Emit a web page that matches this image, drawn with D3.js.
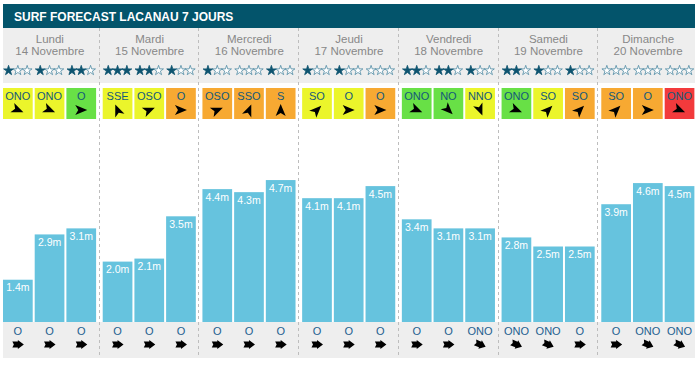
<!DOCTYPE html>
<html><head><meta charset="utf-8">
<script src="https://cdn.jsdelivr.net/npm/d3@7"></script>
<style>
html,body{margin:0;padding:0;background:#fff;}
svg{display:block;font-family:"Liberation Sans",Arial,sans-serif;}
</style></head>
<body>
<script>
const title = "SURF FORECAST LACANAU 7 JOURS";
const days = ["Lundi","Mardi","Mercredi","Jeudi","Vendredi","Samedi","Dimanche"];
const dates = ["14 Novembre","15 Novembre","16 Novembre","17 Novembre","18 Novembre","19 Novembre","20 Novembre"];
const slots = [0,1,2];
const waveHeights = [1.4,2.9,3.1, 2.0,2.1,3.5, 4.4,4.3,4.7, 4.1,4.1,4.5, 3.4,3.1,3.1, 2.8,2.5,2.5, 3.9,4.6,4.5];
const starRatings = [1,1,2, 3,2,1, 1,0,1, 1,1,0, 2,2,1, 2,1,1, 0,0,0];
const windDirs = ["ONO","ONO","O", "SSE","OSO","O", "OSO","SSO","S", "SO","O","O", "ONO","NO","NNO", "ONO","SO","SO", "SO","O","ONO"];
const windQuality = ["fair","fair","good", "fair","fair","poor", "poor","poor","poor", "fair","fair","poor", "good","good","fair", "good","fair","poor", "poor","poor","bad"];
const swellDirs = ["O","O","O", "O","O","O", "O","O","O", "O","O","O", "O","O","ONO", "ONO","ONO","O", "O","ONO","ONO"];

const W = 698, H = 365;
const compass = ["N","NNE","NE","ENE","E","ESE","SE","SSE","S","SSO","SO","OSO","O","ONO","NO","NNO"];
const fromDeg = d => compass.indexOf(d) * 22.5;
const rot = d => (fromDeg(d) + 180) - 90; // arrow drawn pointing east; rotate to "towards" bearing
const qColor = {good:"#68e046", fair:"#ebf52b", poor:"#f7a932", bad:"#f23a3c"};

const svg = d3.select("body").append("svg").attr("width", W).attr("height", H);

const xDay = d3.scaleBand().domain(d3.range(days.length)).range([0, W]);
const xSlot = d3.scaleBand().domain(slots).range([3, 96.1]).paddingInner(0.063);
const y = d3.scaleLinear().domain([0, 5]).range([322, 171]);

const slotData = d3.range(days.length * slots.length).map(i => ({
  i, day: Math.floor(i / 3), slot: i % 3,
  h: waveHeights[i], stars: starRatings[i], wind: windDirs[i], q: windQuality[i], swell: swellDirs[i]
}));
const sx = d => xDay(d.day) + xSlot(d.slot);
const cx = d => sx(d) + xSlot.bandwidth() / 2;

// title bar
svg.append("rect").attr("x", 3).attr("y", 4).attr("width", W - 6).attr("height", 24).attr("fill", "#03546b");
svg.append("text").attr("x", 14).attr("y", 20.5).attr("fill", "#fff")
  .attr("font-size", 12).attr("font-weight", "bold").text(title);

// header gray
svg.append("rect").attr("x", 3).attr("y", 28).attr("width", W - 6).attr("height", 55).attr("fill", "#eeeeee");
// bottom gray
svg.append("rect").attr("x", 3).attr("y", 322).attr("width", W - 6).attr("height", 36).attr("fill", "#eeeeee");

const dayG = svg.append("g");
dayG.selectAll("text.day").data(days).join("text").attr("class", "day")
  .attr("x", (d, i) => xDay(i) + xDay.bandwidth() / 2).attr("y", 42.5)
  .attr("text-anchor", "middle").attr("font-size", 11.5).attr("fill", "#888").text(d => d);
dayG.selectAll("text.date").data(dates).join("text").attr("class", "date")
  .attr("x", (d, i) => xDay(i) + xDay.bandwidth() / 2).attr("y", 55)
  .attr("text-anchor", "middle").attr("font-size", 11.5).attr("fill", "#888").text(d => d);

// stars
const starPath = d3.symbol(d3.symbolStar, 30)();
const starData = [];
slotData.forEach(d => { for (let k = 0; k < 3; k++) starData.push({d, k, on: k < d.stars}); });
svg.append("g").selectAll("path").data(starData).join("path")
  .attr("d", starPath)
  .attr("transform", s => `translate(${cx(s.d) + (s.k - 1) * 9.3},${70.5})`)
  .attr("fill", s => s.on ? "#0e5470" : "#ffffff")
  .attr("stroke", s => s.on ? "#0e5470" : "#4f8aa3")
  .attr("stroke-width", 0.8);

// wind boxes
const windG = svg.append("g");
windG.selectAll("rect").data(slotData).join("rect")
  .attr("x", sx).attr("y", 88).attr("width", xSlot.bandwidth()).attr("height", 31)
  .attr("fill", d => qColor[d.q]);
windG.selectAll("text").data(slotData).join("text")
  .attr("x", cx).attr("y", 100).attr("text-anchor", "middle")
  .attr("font-size", 11).attr("fill", "#14597a").text(d => d.wind);
const navArrow = "M6,0 L-6,-5 L-3,0 L-6,5 Z";
windG.selectAll("path").data(slotData).join("path")
  .attr("d", navArrow).attr("fill", "#000")
  .attr("transform", d => `translate(${cx(d)},110) rotate(${rot(d.wind)})`);

// bars
const barG = svg.append("g");
barG.selectAll("rect").data(slotData).join("rect")
  .attr("x", sx).attr("y", d => y(d.h)).attr("width", xSlot.bandwidth())
  .attr("height", d => y(0) - y(d.h)).attr("fill", "#66c3de");
barG.selectAll("text").data(slotData).join("text")
  .attr("x", cx).attr("y", d => y(d.h) + 11.5).attr("text-anchor", "middle")
  .attr("font-size", 10.5).attr("fill", "#fff").text(d => d.h.toFixed(1) + "m");

// swell
const swellG = svg.append("g");
swellG.selectAll("text").data(slotData).join("text")
  .attr("x", cx).attr("y", 335).attr("text-anchor", "middle")
  .attr("font-size", 11).attr("fill", "#1d6090").text(d => d.swell);
const swellArrow = "M-5.5,-3 L0,-3 L0,-4.5 L6,0 L0,4.5 L0,3 L-5.5,3 L-4,0 Z";
swellG.selectAll("path").data(slotData).join("path")
  .attr("d", swellArrow).attr("fill", "#000")
  .attr("transform", d => `translate(${cx(d)},344.5) rotate(${rot(d.swell)})`);

// dividers
svg.append("g").selectAll("line").data(d3.range(1, days.length)).join("line")
  .attr("x1", i => Math.round(xDay(i)) - 0.5).attr("x2", i => Math.round(xDay(i)) - 0.5)
  .attr("y1", 28).attr("y2", 358)
  .attr("stroke", "#bdbdbd").attr("stroke-width", 1).attr("stroke-dasharray", "3,3");
</script>
</body></html>
